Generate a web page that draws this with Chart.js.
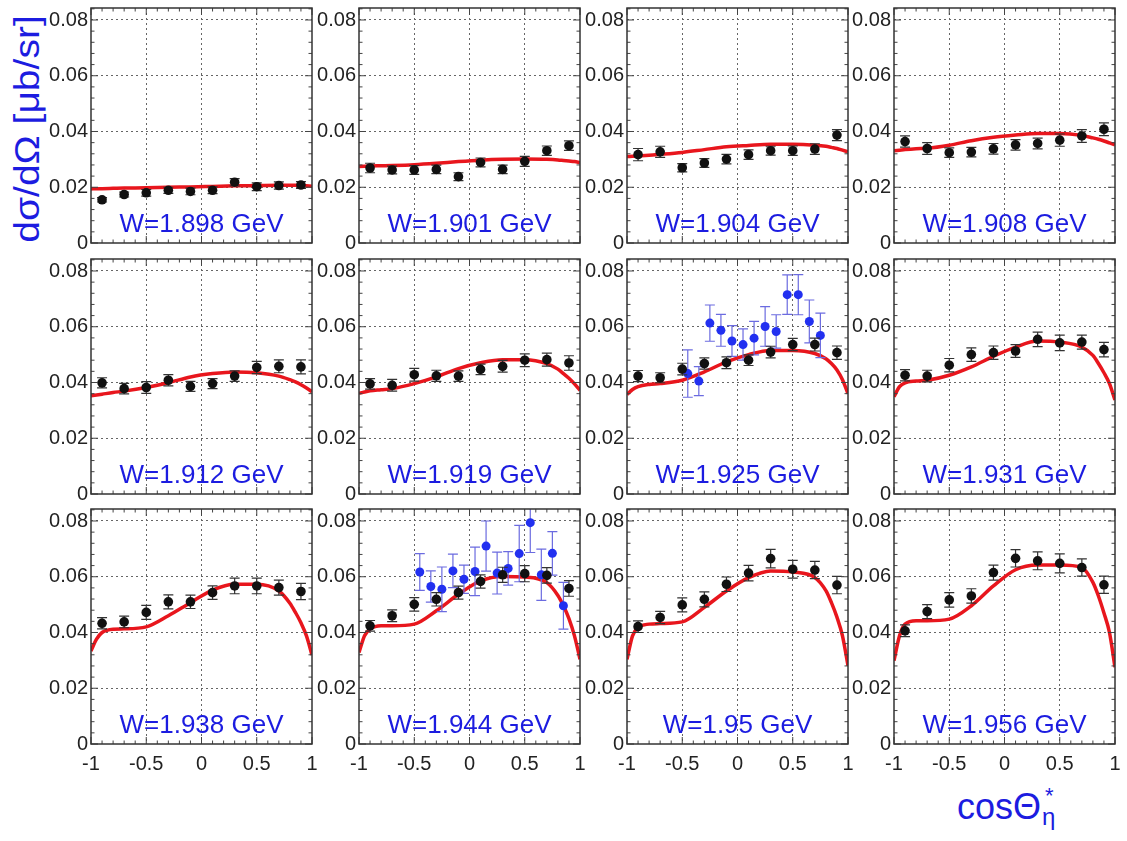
<!DOCTYPE html>
<html lang="en">
<head>
  <meta charset="UTF-8" />
  <title>eta photoproduction dσ/dΩ vs cosΘ</title>
  <script src="https://cdn.jsdelivr.net/npm/chart.js@4.4.0/dist/chart.umd.min.js"></script>
  <style>
    body { margin: 0; background: #fff; width: 1127px; height: 841px; position: relative; overflow: hidden;
           font-family: "Liberation Sans", Arial, sans-serif; }
    .panel { position: absolute; }
    .panel canvas { display: block; }
    #ytitle {
      position: absolute; left: 27px; top: 129px; white-space: nowrap;
      transform: translate(-50%, -50%) rotate(-90deg) scale(1, 0.88);
      font-size: 39px; color: #1c1ce0; line-height: 39px;
    }
    #xtitle {
      position: absolute; left: 957px; top: 789px; white-space: nowrap;
      font-size: 36px; line-height: 36px; color: #1c1ce0;
    }
    #xtitle .ss { display: inline-block; position: relative; width: 16px; height: 36px; vertical-align: top; }
    #xtitle .sup { position: absolute; left: 4px; top: -11px; font-size: 22px; }
    #xtitle .sub { position: absolute; left: 1px; top: 10px; font-size: 24px; }
  </style>
</head>
<body>
  <div id="ytitle">dσ/dΩ [μb/sr]</div>
  <div id="xtitle">cosΘ<span class="ss"><span class="sup">*</span><span class="sub">η</span></span></div>
  <script>
    // ---- data ----
    const W_LABELS = ['W=1.898 GeV', 'W=1.901 GeV', 'W=1.904 GeV', 'W=1.908 GeV',
                      'W=1.912 GeV', 'W=1.919 GeV', 'W=1.925 GeV', 'W=1.931 GeV',
                      'W=1.938 GeV', 'W=1.944 GeV', 'W=1.95 GeV', 'W=1.956 GeV'];

    const COS_BINS = [-0.9, -0.7, -0.5, -0.3, -0.1, 0.1, 0.3, 0.5, 0.7, 0.9];

    const BLACK_Y = [
      [0.0155, 0.0174, 0.0180, 0.0189, 0.0185, 0.0189, 0.0218, 0.0202, 0.0206, 0.0208],
      [0.0269, 0.0262, 0.0262, 0.0264, 0.0238, 0.0289, 0.0264, 0.0293, 0.0331, 0.0349],
      [0.0317, 0.0327, 0.0270, 0.0287, 0.0301, 0.0317, 0.0331, 0.0331, 0.0337, 0.0387],
      [0.0364, 0.0339, 0.0324, 0.0326, 0.0338, 0.0352, 0.0357, 0.0369, 0.0384, 0.0408],
      [0.0399, 0.0378, 0.0382, 0.0408, 0.0386, 0.0396, 0.0423, 0.0454, 0.0458, 0.0456],
      [0.0395, 0.0390, 0.0428, 0.0424, 0.0423, 0.0447, 0.0458, 0.0480, 0.0482, 0.0470],
      [0.0423, 0.0417, 0.0448, 0.0468, 0.0471, 0.0480, 0.0509, 0.0536, 0.0536, 0.0507],
      [0.0426, 0.0423, 0.0462, 0.0500, 0.0507, 0.0513, 0.0555, 0.0542, 0.0545, 0.0518],
      [0.0433, 0.0438, 0.0472, 0.0510, 0.0510, 0.0543, 0.0567, 0.0567, 0.0561, 0.0547],
      [0.0424, 0.0460, 0.0501, 0.0519, 0.0543, 0.0583, 0.0607, 0.0611, 0.0605, 0.0558],
      [0.0421, 0.0454, 0.0499, 0.0519, 0.0573, 0.0613, 0.0665, 0.0627, 0.0624, 0.0570],
      [0.0406, 0.0475, 0.0517, 0.0531, 0.0615, 0.0666, 0.0657, 0.0648, 0.0633, 0.0571]
    ];

    const BLACK_ERR = [
      [0.0008, 0.0009, 0.0012, 0.0011, 0.0012, 0.0012, 0.0013, 0.0014, 0.0013, 0.0012],
      [0.0017, 0.0014, 0.0016, 0.0015, 0.0014, 0.0016, 0.0015, 0.0018, 0.0017, 0.0017],
      [0.0022, 0.0020, 0.0015, 0.0016, 0.0017, 0.0017, 0.0016, 0.0017, 0.0019, 0.0020],
      [0.0020, 0.0021, 0.0017, 0.0017, 0.0019, 0.0019, 0.0019, 0.0022, 0.0023, 0.0023],
      [0.0018, 0.0019, 0.0021, 0.0020, 0.0018, 0.0018, 0.0019, 0.0022, 0.0023, 0.0025],
      [0.0019, 0.0021, 0.0023, 0.0020, 0.0019, 0.0019, 0.0021, 0.0023, 0.0023, 0.0026],
      [0.0020, 0.0018, 0.0021, 0.0020, 0.0021, 0.0019, 0.0021, 0.0022, 0.0023, 0.0024],
      [0.0020, 0.0021, 0.0024, 0.0024, 0.0024, 0.0023, 0.0026, 0.0028, 0.0025, 0.0026],
      [0.0020, 0.0021, 0.0025, 0.0025, 0.0024, 0.0024, 0.0028, 0.0028, 0.0027, 0.0029],
      [0.0019, 0.0021, 0.0024, 0.0024, 0.0023, 0.0024, 0.0027, 0.0029, 0.0028, 0.0028],
      [0.0021, 0.0022, 0.0025, 0.0027, 0.0026, 0.0028, 0.0033, 0.0032, 0.0031, 0.0031],
      [0.0021, 0.0025, 0.0026, 0.0026, 0.0027, 0.0031, 0.0032, 0.0034, 0.0031, 0.0031]
    ];

    const CURVE_X = [-1, -0.95, -0.9, -0.8, -0.7, -0.5, -0.3, -0.1, 0.1, 0.3, 0.5, 0.7, 0.8, 0.85, 0.9, 0.95, 1];

    const CURVE_Y = [
      [0.0194, 0.0195, 0.0195, 0.0196, 0.0197, 0.0198, 0.0200, 0.0201, 0.0203, 0.0205, 0.0206, 0.0207, 0.0207, 0.0207, 0.0206, 0.0205, 0.0204],
      [0.0274, 0.0275, 0.0276, 0.0277, 0.0278, 0.0281, 0.0286, 0.0292, 0.0297, 0.0300, 0.0301, 0.0300, 0.0298, 0.0296, 0.0294, 0.0292, 0.0289],
      [0.0310, 0.0311, 0.0312, 0.0315, 0.0318, 0.0325, 0.0335, 0.0345, 0.0350, 0.0354, 0.0354, 0.0351, 0.0347, 0.0343, 0.0339, 0.0333, 0.0327],
      [0.0331, 0.0333, 0.0335, 0.0338, 0.0340, 0.0351, 0.0367, 0.0379, 0.0387, 0.0393, 0.0393, 0.0386, 0.0377, 0.0372, 0.0366, 0.0359, 0.0352],
      [0.0352, 0.0355, 0.0358, 0.0364, 0.0369, 0.0382, 0.0399, 0.0420, 0.0432, 0.0438, 0.0435, 0.0423, 0.0410, 0.0402, 0.0392, 0.0380, 0.0367],
      [0.0361, 0.0366, 0.0370, 0.0374, 0.0378, 0.0396, 0.0420, 0.0450, 0.0471, 0.0482, 0.0482, 0.0468, 0.0448, 0.0432, 0.0415, 0.0395, 0.0372],
      [0.0357, 0.0375, 0.0385, 0.0393, 0.0396, 0.0408, 0.0438, 0.0474, 0.0500, 0.0515, 0.0515, 0.0504, 0.0485, 0.0468, 0.0445, 0.0410, 0.0360],
      [0.0349, 0.0385, 0.0399, 0.0405, 0.0408, 0.0426, 0.0456, 0.0494, 0.0527, 0.0549, 0.0545, 0.0527, 0.0497, 0.0468, 0.0435, 0.0396, 0.0337],
      [0.0334, 0.0376, 0.0400, 0.0412, 0.0413, 0.0420, 0.0460, 0.0507, 0.0552, 0.0573, 0.0573, 0.0549, 0.0505, 0.0472, 0.0435, 0.0388, 0.0319],
      [0.0328, 0.0388, 0.0412, 0.0424, 0.0424, 0.0430, 0.0478, 0.0537, 0.0585, 0.0601, 0.0599, 0.0579, 0.0533, 0.0496, 0.0450, 0.0388, 0.0304],
      [0.0304, 0.0388, 0.0418, 0.0430, 0.0432, 0.0438, 0.0490, 0.0549, 0.0597, 0.0621, 0.0617, 0.0597, 0.0550, 0.0507, 0.0455, 0.0388, 0.0281],
      [0.0299, 0.0388, 0.0430, 0.0442, 0.0442, 0.0448, 0.0496, 0.0567, 0.0625, 0.0642, 0.0642, 0.0633, 0.0580, 0.0531, 0.0470, 0.0400, 0.0275]
    ];

    // second data set (blue) shown in two panels
    const BLUE_X_1925 = [-0.45, -0.35, -0.25, -0.15, -0.05, 0.05, 0.15, 0.25, 0.35, 0.45, 0.55, 0.65, 0.75];
    const BLUE_Y_1925 = [0.0432, 0.0405, 0.0613, 0.0587, 0.0549, 0.0536, 0.0559, 0.0601, 0.0583, 0.0715, 0.0715, 0.0619, 0.0569];
    const BLUE_ERR_1925 = [0.0085, 0.0052, 0.0065, 0.0057, 0.0055, 0.0056, 0.0060, 0.0071, 0.0060, 0.0071, 0.0072, 0.0077, 0.0080];

    const BLUE_X_1944 = [-0.45, -0.35, -0.25, -0.15, -0.05, 0.05, 0.15, 0.25, 0.35, 0.45, 0.55, 0.65, 0.75, 0.85];
    const BLUE_Y_1944 = [0.0617, 0.0565, 0.0555, 0.0621, 0.0591, 0.0619, 0.0710, 0.0613, 0.0630, 0.0683, 0.0794, 0.0607, 0.0684, 0.0496];
    const BLUE_ERR_1944 = [0.0066, 0.0056, 0.0080, 0.0060, 0.0051, 0.0087, 0.0090, 0.0075, 0.0060, 0.0101, 0.0107, 0.0092, 0.0078, 0.0084];

    const BLUE_SETS = { 6: [BLUE_X_1925, BLUE_Y_1925, BLUE_ERR_1925], 9: [BLUE_X_1944, BLUE_Y_1944, BLUE_ERR_1944] };

    // ---- layout ----
    const colLeft = [91, 359, 627, 894];
    const rowTop = [8, 259, 509];
    const plotW = 221, plotH = 235;
    const yAxisW = 62, padTop = 8, padRight = 8;
    const FONT = '"Liberation Sans", Arial, sans-serif';

    const errorBars = {
      id: 'errorBars',
      beforeDatasetDraw(chart, args) {
        const ds = chart.data.datasets[args.index];
        if (!ds.errors) return;
        const ctx = chart.ctx, y = chart.scales.y, area = chart.chartArea;
        ctx.save();
        ctx.beginPath();
        ctx.rect(area.left, area.top, area.right - area.left, area.bottom - area.top);
        ctx.clip();
        ctx.strokeStyle = ds.errorColor;
        ctx.lineWidth = 1.2;
        args.meta.data.forEach((pt, i) => {
          const v = ds.data[i].y, e = ds.errors[i];
          const top = y.getPixelForValue(v + e), bot = y.getPixelForValue(v - e);
          ctx.beginPath();
          ctx.moveTo(pt.x, top); ctx.lineTo(pt.x, bot);
          ctx.moveTo(pt.x - 5, top); ctx.lineTo(pt.x + 5, top);
          ctx.moveTo(pt.x - 5, bot); ctx.lineTo(pt.x + 5, bot);
          ctx.stroke();
        });
        ctx.restore();
      }
    };

    const frameAndLabel = {
      id: 'frameAndLabel',
      afterDatasetsDraw(chart) {
        const ctx = chart.ctx, a = chart.chartArea;
        const xs = chart.scales.x, ys = chart.scales.y;
        ctx.save();
        ctx.strokeStyle = '#444';
        ctx.lineWidth = 1;
        // minor/major tick marks inside the frame
        ctx.beginPath();
        for (let k = -10; k <= 10; k++) {
          const px = xs.getPixelForValue(k / 10);
          const len = k % 5 === 0 ? 7 : 3.5;
          ctx.moveTo(px, a.bottom); ctx.lineTo(px, a.bottom - len);
          ctx.moveTo(px, a.top); ctx.lineTo(px, a.top + len);
        }
        for (let k = 0; k <= 21; k++) {
          const v = k * 0.004;
          if (v > ys.max) break;
          const py = ys.getPixelForValue(v);
          const len = k % 5 === 0 ? 7 : 3.5;
          ctx.moveTo(a.left, py); ctx.lineTo(a.left + len, py);
          ctx.moveTo(a.right, py); ctx.lineTo(a.right - len, py);
        }
        ctx.stroke();
        ctx.lineWidth = 1.5;
        ctx.strokeStyle = '#333';
        ctx.strokeRect(a.left, a.top, a.right - a.left, a.bottom - a.top);
        // panel label
        ctx.fillStyle = '#1c1ce0';
        ctx.font = '26px ' + FONT;
        ctx.textAlign = 'center';
        ctx.textBaseline = 'alphabetic';
        ctx.fillText(chart.options.plugins.panelLabel, (a.left + a.right) / 2, a.bottom - 11);
        ctx.restore();
      }
    };

    function makePanel(p) {
      const row = Math.floor(p / 4), col = p % 4;
      const bottomRow = row === 2;
      const xAxisH = bottomRow ? 40 : 14;

      const div = document.createElement('div');
      div.className = 'panel';
      div.style.left = (colLeft[col] - yAxisW) + 'px';
      div.style.top = (rowTop[row] - padTop) + 'px';
      const canvas = document.createElement('canvas');
      canvas.width = yAxisW + plotW + padRight;
      canvas.height = padTop + plotH + xAxisH;
      div.appendChild(canvas);
      document.body.appendChild(div);

      const datasets = [{
        type: 'line',
        data: CURVE_X.map((x, i) => ({ x, y: CURVE_Y[p][i] })),
        borderColor: '#e8161d',
        borderWidth: 3.5,
        pointRadius: 0,
        cubicInterpolationMode: 'monotone',
        order: 3
      }];
      if (BLUE_SETS[p]) {
        const [bx, by, be] = BLUE_SETS[p];
        datasets.push({
          data: bx.map((x, i) => ({ x, y: by[i] })),
          errors: be,
          errorColor: '#6b6be0',
          backgroundColor: '#2230f0',
          borderWidth: 0,
          pointRadius: 4.5,
          showLine: false,
          order: 2
        });
      }
      datasets.push({
        data: COS_BINS.map((x, i) => ({ x, y: BLACK_Y[p][i] })),
        errors: BLACK_ERR[p],
        errorColor: '#333',
        backgroundColor: '#111',
        borderWidth: 0,
        pointRadius: 4.8,
        showLine: false,
        order: 1
      });

      new Chart(canvas, {
        type: 'scatter',
        data: { datasets },
        options: {
          responsive: false,
          animation: false,
          devicePixelRatio: 1,
          layout: { padding: { top: padTop, right: padRight, left: 0, bottom: 0 } },
          plugins: { legend: { display: false }, tooltip: { enabled: false }, panelLabel: W_LABELS[p] },
          scales: {
            x: {
              type: 'linear', min: -1, max: 1,
              border: { display: false, dash: [2, 3] },
              grid: { color: c => (Math.abs(c.tick.value) === 1 ? 'rgba(0,0,0,0)' : '#666'), drawTicks: false, lineWidth: 1 },
              ticks: {
                display: bottomRow, stepSize: 0.5, autoSkip: false, maxRotation: 0, padding: 8,
                color: '#222', font: { size: 20, family: FONT },
                callback: v => String(v)
              },
              afterFit: s => { s.height = xAxisH; s.paddingLeft = 0; s.paddingRight = 0; }
            },
            y: {
              type: 'linear', min: 0, max: 0.0843,
              border: { display: false, dash: [2, 3] },
              grid: { color: c => (c.tick.value === 0 ? 'rgba(0,0,0,0)' : '#666'), drawTicks: false, lineWidth: 1 },
              ticks: {
                stepSize: 0.02, includeBounds: false, padding: 3,
                color: '#222', font: { size: 20, family: FONT },
                callback: v => (v === 0 ? '0' : v.toFixed(2))
              },
              afterFit: s => { s.width = yAxisW; s.paddingTop = 0; s.paddingBottom = 0; }
            }
          }
        },
        plugins: [errorBars, frameAndLabel]
      });
    }

    for (let p = 0; p < 12; p++) makePanel(p);
  </script>
</body>
</html>
